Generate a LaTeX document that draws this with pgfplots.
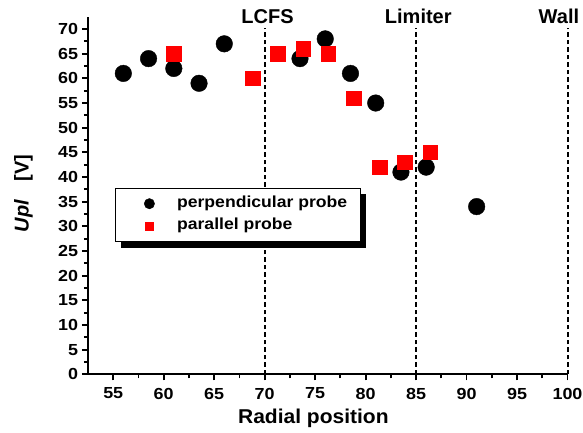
\documentclass[border=0pt]{standalone}
\usepackage{fontspec}
\setmainfont{Liberation Sans}
\usepackage{pgfplots}
\pgfplotsset{compat=1.18}
\usetikzlibrary{shadows}
\pgfplotsset{
  circleg/.style={legend image code/.code={\pgfpathrectangle{\pgfpoint{0pt}{-6pt}}{\pgfpoint{48.7pt}{12pt}}\pgfusepath{use as bounding box}\draw[##1, mark size=5.2pt] plot coordinates {(21pt,0pt)};}},
  squareleg/.style={legend image code/.code={\pgfpathrectangle{\pgfpoint{0pt}{-6pt}}{\pgfpoint{48.7pt}{12pt}}\pgfusepath{use as bounding box}\draw[##1, mark size=4pt] plot coordinates {(21pt,0pt)};}},
}
\begin{document}
\begin{tikzpicture}
\begin{axis}[
  at={(0,0)}, anchor=south west,
  scale only axis, width=479.5pt, height=357.6pt,
  xmin=52.5, xmax=100, ymin=0, ymax=72.5,
  axis lines*=left,
  axis line style={line width=2pt},
  xtick={55,60,...,100}, ytick={0,5,...,70},
  minor x tick num=1, minor y tick num=1,
  tick align=outside,
  major tick length=6pt, minor tick length=4pt,
  tick style={black, line width=1.8pt},
  /pgf/number format/assume math mode=true,
  ticklabel style={font=\bfseries\fontsize{16}{16}\selectfont},
  xticklabel style={xscale=1.12, yshift=-4pt},
  yticklabel style={xscale=1.12},
  clip=false,
  xlabel={Radial position},
  xlabel style={at={(axis description cs:0.47,0)}, anchor=base, yshift=-49pt, font=\bfseries\fontsize{20}{20}\selectfont, xscale=1.05},
  ylabel={\textit{Upl}\hspace{0.9em}[V]},
  ylabel style={at={(axis description cs:-0.124,0.5056)}, anchor=base, font=\bfseries\fontsize{20}{20}\selectfont},
  legend style={at={(axis description cs:0.0563,0.5218)}, anchor=north west,
    draw=black, line width=0.8pt, fill=white,
    drop shadow={shadow xshift=6pt, shadow yshift=-6pt, fill=black, opacity=1},
    font=\bfseries\fontsize{16}{16}\selectfont,
    inner xsep=13pt, inner ysep=8.1pt, row sep=7.4pt,
    nodes={inner sep=0pt, text height=11pt, text depth=4pt, xscale=1.1}},
  legend cell align=left,
]
% dashed reference lines
\addplot[black, line width=2pt, dash pattern=on 4.5pt off 3pt, forget plot] coordinates {(70,0) (70,70.3)};
\addplot[black, line width=2pt, dash pattern=on 4.5pt off 3pt, forget plot] coordinates {(85,0) (85,70.3)};
\addplot[black, line width=2pt, dash pattern=on 4.5pt off 3pt, forget plot] coordinates {(100,0) (100,70.3)};
% perpendicular probe
\addplot[only marks, mark=*, mark size=8.3pt, mark options={fill=black, draw=black, line width=0.4pt}, circleg]
  coordinates {(56,61) (58.5,64) (61,62) (63.5,59) (66,67) (73.5,64) (76,68) (78.5,61) (81,55) (83.5,41) (86,42) (91,34)};
\addlegendentry{perpendicular probe}
% parallel probe
\addplot[only marks, mark=square*, mark size=7.3pt, mark options={fill=red, draw=red, line width=0.4pt}, squareleg]
  coordinates {(61,65) (68.8,60) (71.3,65) (73.8,66) (76.3,65) (78.8,56) (81.4,42) (83.9,43) (86.4,45)};
\addlegendentry{parallel probe}
\node[anchor=base, font=\bfseries\fontsize{20}{20}\selectfont] at (axis cs:70.28,71.16) {LCFS};
\node[anchor=base, font=\bfseries\fontsize{20}{20}\selectfont] at (axis cs:85.22,71.16) {Limiter};
\node[anchor=base east, font=\bfseries\fontsize{20}{20}\selectfont] at (axis cs:101.5,71.16) {Wall};
\end{axis}
\pgfresetboundingbox
\path[use as bounding box] (-88pt,-58.7pt) rectangle (495pt,374.3pt);
\end{tikzpicture}
\end{document}
